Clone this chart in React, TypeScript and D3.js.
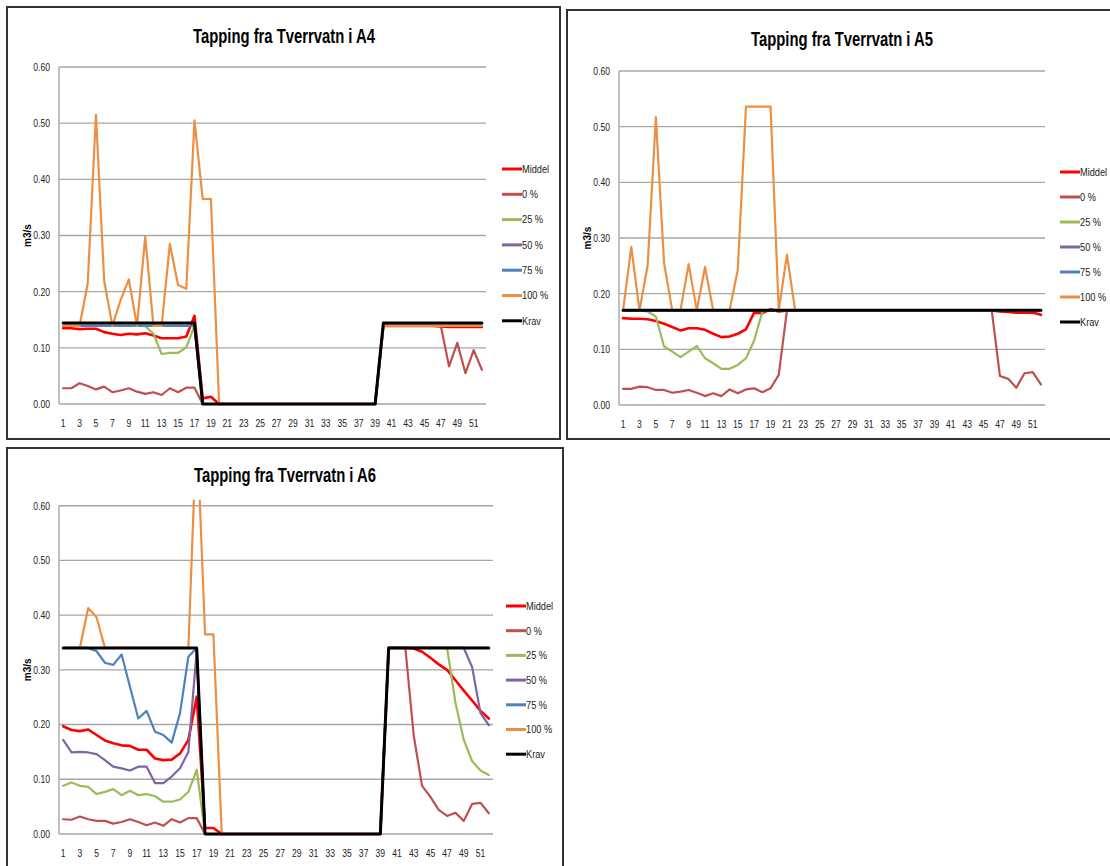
import React from 'react';
import * as d3 from 'd3';

// uker (kategorier) og akser
const weeks = d3.range(1, 53);
const xTickWeeks = weeks.filter(w => w % 2 === 1);
const yTicks = [0, 0.1, 0.2, 0.3, 0.4, 0.5, 0.6];
const seriesNames = ['Middel', '0 %', '25 %', '50 %', '75 %', '100 %', 'Krav'];
const seriesColors = ['#ff0000', '#c0504d', '#9bbb59', '#8064a2', '#4f81bd', '#ec8f43', '#000000'];

// ---- A4 ----
const a4Middel = [
  0.135, 0.135, 0.133, 0.134, 0.134, 0.128, 0.125, 0.123, 0.125, 0.124, 0.126, 0.122, 0.117, 0.117, 0.117, 0.120, 0.157,
  0.010, 0.013,
  0, 0, 0, 0, 0, 0, 0, 0, 0, 0,
  0, 0, 0, 0, 0, 0, 0, 0, 0, 0,
  0.139, 0.139, 0.139, 0.139, 0.139, 0.139, 0.139, 0.138, 0.137, 0.137, 0.137, 0.137, 0.137,
];
const a4P0 = [
  0.028, 0.028, 0.037, 0.032, 0.026, 0.031, 0.021, 0.024, 0.028, 0.022, 0.018, 0.021, 0.016, 0.028, 0.021, 0.029, 0.029,
  0, 0,
  0, 0, 0, 0, 0, 0, 0, 0, 0, 0,
  0, 0, 0, 0, 0, 0, 0, 0, 0, 0,
  0.139, 0.139, 0.139, 0.139, 0.139, 0.139, 0.139, 0.139, 0.067, 0.109, 0.055, 0.096, 0.061,
];
const a4P25 = [
  0.139, 0.139, 0.139, 0.139, 0.139, 0.139, 0.139, 0.139, 0.139, 0.139, 0.139, 0.125, 0.089, 0.091, 0.091, 0.101, 0.139,
  0, 0,
  0, 0, 0, 0, 0, 0, 0, 0, 0, 0,
  0, 0, 0, 0, 0, 0, 0, 0, 0, 0,
  0.139, 0.139, 0.139, 0.139, 0.139, 0.139, 0.139, 0.139, 0.139, 0.139, 0.139, 0.139, 0.139,
];
const a4P50 = [
  0.139, 0.139, 0.139, 0.139, 0.139, 0.139, 0.139, 0.139, 0.139, 0.139, 0.139, 0.139, 0.139, 0.139, 0.139, 0.139, 0.139,
  0, 0,
  0, 0, 0, 0, 0, 0, 0, 0, 0, 0,
  0, 0, 0, 0, 0, 0, 0, 0, 0, 0,
  0.139, 0.139, 0.139, 0.139, 0.139, 0.139, 0.139, 0.139, 0.139, 0.139, 0.139, 0.139, 0.139,
];
const a4P75 = [
  0.139, 0.139, 0.139, 0.139, 0.139, 0.139, 0.139, 0.139, 0.139, 0.139, 0.139, 0.139, 0.139, 0.139, 0.139, 0.139, 0.139,
  0, 0,
  0, 0, 0, 0, 0, 0, 0, 0, 0, 0,
  0, 0, 0, 0, 0, 0, 0, 0, 0, 0,
  0.139, 0.139, 0.139, 0.139, 0.139, 0.139, 0.139, 0.139, 0.139, 0.139, 0.139, 0.139, 0.139,
];
const a4P100 = [
  0.139, 0.139, 0.139, 0.215, 0.515, 0.220, 0.139, 0.185, 0.222, 0.139, 0.298, 0.139, 0.139, 0.285, 0.212, 0.205, 0.505,
  0.365, 0.365,
  0, 0, 0, 0, 0, 0, 0, 0, 0, 0,
  0, 0, 0, 0, 0, 0, 0, 0, 0, 0,
  0.139, 0.139, 0.139, 0.139, 0.139, 0.139, 0.139, 0.139, 0.139, 0.139, 0.139, 0.139, 0.139,
];
const a4Krav = [
  0.144, 0.144, 0.144, 0.144, 0.144, 0.144, 0.144, 0.144, 0.144, 0.144, 0.144, 0.144, 0.144, 0.144, 0.144, 0.144, 0.144,
  0, 0,
  0, 0, 0, 0, 0, 0, 0, 0, 0, 0,
  0, 0, 0, 0, 0, 0, 0, 0, 0, 0,
  0.144, 0.144, 0.144, 0.144, 0.144, 0.144, 0.144, 0.144, 0.144, 0.144, 0.144, 0.144, 0.144,
];

// ---- A5 ----
const a5Middel = [
  0.156, 0.155, 0.155, 0.154, 0.151, 0.146, 0.140, 0.134, 0.138, 0.138, 0.135, 0.128, 0.122, 0.123, 0.128, 0.136, 0.166, 0.165, 0.172, 0.168,
  0.170, 0.170, 0.170, 0.170, 0.170, 0.170, 0.170, 0.170, 0.170, 0.170, 0.170, 0.170, 0.170,
  0.170, 0.170, 0.170, 0.170, 0.170, 0.170, 0.170, 0.170, 0.170, 0.170, 0.170, 0.170, 0.170,
  0.168, 0.167, 0.166, 0.166, 0.166, 0.162,
];
const a5P0 = [
  0.029, 0.029, 0.033, 0.032, 0.027, 0.027, 0.022, 0.024, 0.027, 0.022, 0.016, 0.021, 0.016, 0.028, 0.021, 0.028, 0.030, 0.023, 0.030, 0.054,
  0.170, 0.170, 0.170, 0.170, 0.170, 0.170, 0.170, 0.170, 0.170, 0.170, 0.170, 0.170, 0.170,
  0.170, 0.170, 0.170, 0.170, 0.170, 0.170, 0.170, 0.170, 0.170, 0.170, 0.170, 0.170, 0.170,
  0.052, 0.047, 0.031, 0.057, 0.059, 0.037,
];
const a5P25 = [
  0.170, 0.170, 0.170, 0.168, 0.159, 0.105, 0.096, 0.086, 0.096, 0.106, 0.084, 0.075, 0.065, 0.065, 0.072, 0.084, 0.116, 0.168, 0.170, 0.170,
  0.170, 0.170, 0.170, 0.170, 0.170, 0.170, 0.170, 0.170, 0.170, 0.170, 0.170, 0.170, 0.170,
  0.170, 0.170, 0.170, 0.170, 0.170, 0.170, 0.170, 0.170, 0.170, 0.170, 0.170, 0.170, 0.170,
  0.170, 0.170, 0.170, 0.170, 0.170, 0.170,
];
const a5P50 = [
  0.170, 0.170, 0.170, 0.170, 0.170, 0.170, 0.170, 0.170, 0.170, 0.170, 0.170, 0.170, 0.170,
  0.170, 0.170, 0.170, 0.170, 0.170, 0.170, 0.170, 0.170, 0.170, 0.170, 0.170, 0.170, 0.170,
  0.170, 0.170, 0.170, 0.170, 0.170, 0.170, 0.170, 0.170, 0.170, 0.170, 0.170, 0.170, 0.170,
  0.170, 0.170, 0.170, 0.170, 0.170, 0.170, 0.170, 0.170, 0.170, 0.170, 0.170, 0.170, 0.170,
];
const a5P75 = [
  0.170, 0.170, 0.170, 0.170, 0.170, 0.170, 0.170, 0.170, 0.170, 0.170, 0.170, 0.170, 0.170,
  0.170, 0.170, 0.170, 0.170, 0.170, 0.170, 0.170, 0.170, 0.170, 0.170, 0.170, 0.170, 0.170,
  0.170, 0.170, 0.170, 0.170, 0.170, 0.170, 0.170, 0.170, 0.170, 0.170, 0.170, 0.170, 0.170,
  0.170, 0.170, 0.170, 0.170, 0.170, 0.170, 0.170, 0.170, 0.170, 0.170, 0.170, 0.170, 0.170,
];
const a5P100 = [
  0.170, 0.284, 0.170, 0.251, 0.517, 0.255, 0.170, 0.170, 0.253, 0.170, 0.248, 0.170, 0.170, 0.170, 0.243, 0.536, 0.536, 0.536, 0.536, 0.170, 0.270, 0.170,
  0.170, 0.170, 0.170, 0.170, 0.170, 0.170, 0.170, 0.170, 0.170, 0.170, 0.170, 0.170, 0.170, 0.170, 0.170,
  0.170, 0.170, 0.170, 0.170, 0.170, 0.170, 0.170, 0.170, 0.170, 0.170, 0.170, 0.170, 0.170, 0.170, 0.170,
];
const a5Krav = [
  0.170, 0.170, 0.170, 0.170, 0.170, 0.170, 0.170, 0.170, 0.170, 0.170, 0.170, 0.170, 0.170,
  0.170, 0.170, 0.170, 0.170, 0.170, 0.170, 0.170, 0.170, 0.170, 0.170, 0.170, 0.170, 0.170,
  0.170, 0.170, 0.170, 0.170, 0.170, 0.170, 0.170, 0.170, 0.170, 0.170, 0.170, 0.170, 0.170,
  0.170, 0.170, 0.170, 0.170, 0.170, 0.170, 0.170, 0.170, 0.170, 0.170, 0.170, 0.170, 0.170,
];

// ---- A6 ----
const a6Middel = [
  0.197, 0.190, 0.188, 0.191, 0.181, 0.171, 0.166, 0.162, 0.161, 0.154, 0.154, 0.138, 0.135, 0.136, 0.147, 0.172, 0.251,
  0.011, 0.011,
  0, 0, 0, 0, 0, 0, 0, 0, 0, 0,
  0, 0, 0, 0, 0, 0, 0, 0, 0, 0,
  0.340, 0.340, 0.340, 0.339, 0.333, 0.322, 0.310, 0.300, 0.281, 0.262, 0.244, 0.225, 0.211,
];
const a6P0 = [
  0.027, 0.026, 0.032, 0.027, 0.024, 0.024, 0.019, 0.022, 0.027, 0.022, 0.016, 0.021, 0.015, 0.027, 0.021, 0.029, 0.029,
  0, 0,
  0, 0, 0, 0, 0, 0, 0, 0, 0, 0,
  0, 0, 0, 0, 0, 0, 0, 0, 0, 0,
  0.340, 0.340, 0.340, 0.180, 0.088, 0.068, 0.044, 0.033, 0.039, 0.024, 0.055, 0.057, 0.038,
];
const a6P25 = [
  0.088, 0.094, 0.088, 0.086, 0.073, 0.077, 0.082, 0.071, 0.079, 0.071, 0.073, 0.069, 0.059, 0.059, 0.063, 0.077, 0.117,
  0, 0,
  0, 0, 0, 0, 0, 0, 0, 0, 0, 0,
  0, 0, 0, 0, 0, 0, 0, 0, 0, 0,
  0.340, 0.340, 0.340, 0.340, 0.340, 0.340, 0.340, 0.340, 0.240, 0.172, 0.133, 0.116, 0.108,
];
const a6P50 = [
  0.172, 0.149, 0.150, 0.149, 0.146, 0.135, 0.123, 0.120, 0.116, 0.123, 0.123, 0.093, 0.093, 0.105, 0.120, 0.150, 0.335,
  0, 0,
  0, 0, 0, 0, 0, 0, 0, 0, 0, 0,
  0, 0, 0, 0, 0, 0, 0, 0, 0, 0,
  0.340, 0.340, 0.340, 0.340, 0.340, 0.340, 0.340, 0.340, 0.340, 0.340, 0.305, 0.221, 0.199,
];
const a6P75 = [
  0.340, 0.340, 0.340, 0.340, 0.334, 0.313, 0.309, 0.328, 0.269, 0.211, 0.225, 0.187, 0.181, 0.167, 0.221, 0.324, 0.340,
  0, 0,
  0, 0, 0, 0, 0, 0, 0, 0, 0, 0,
  0, 0, 0, 0, 0, 0, 0, 0, 0, 0,
  0.340, 0.340, 0.340, 0.340, 0.340, 0.340, 0.340, 0.340, 0.340, 0.340, 0.340, 0.340, 0.340,
];
const a6P100 = [
  0.340, 0.340, 0.340, 0.413, 0.396, 0.340, 0.340, 0.340, 0.340, 0.340, 0.340, 0.340, 0.340, 0.340, 0.340, 0.340, 0.750,
  0.365, 0.365,
  0, 0, 0, 0, 0, 0, 0, 0, 0, 0,
  0, 0, 0, 0, 0, 0, 0, 0, 0, 0,
  0.340, 0.340, 0.340, 0.340, 0.340, 0.340, 0.340, 0.340, 0.340, 0.340, 0.340, 0.340, 0.340,
];
const a6Krav = [
  0.340, 0.340, 0.340, 0.340, 0.340, 0.340, 0.340, 0.340, 0.340, 0.340, 0.340, 0.340, 0.340, 0.340, 0.340, 0.340, 0.340,
  0, 0,
  0, 0, 0, 0, 0, 0, 0, 0, 0, 0,
  0, 0, 0, 0, 0, 0, 0, 0, 0, 0,
  0.340, 0.340, 0.340, 0.340, 0.340, 0.340, 0.340, 0.340, 0.340, 0.340, 0.340, 0.340, 0.340,
];

const sans = "'Liberation Sans', Arial, sans-serif";
const strokeWidths = [2.6, 2.2, 2.2, 2.2, 2.2, 2.2, 3];

const panels = [
  {
    id: 'a4', title: 'Tapping fra Tverrvatn i A4',
    series: [a4Middel, a4P0, a4P25, a4P50, a4P75, a4P100, a4Krav],
    box: { x: 7, y: 7, w: 553, h: 432 },
    plot: { l: 59, r: 486, t: 67, b: 404 },
    titleX: 284, titleY: 43, legendX: 502, legendY: 169, legendStep: 25.3, yLabelX: 31,
  },
  {
    id: 'a5', title: 'Tapping fra Tverrvatn i A5',
    series: [a5Middel, a5P0, a5P25, a5P50, a5P75, a5P100, a5Krav],
    box: { x: 567, y: 10, w: 560, h: 429 },
    plot: { l: 619, r: 1045, t: 71, b: 405 },
    titleX: 842, titleY: 46, legendX: 1060, legendY: 172, legendStep: 25, yLabelX: 591,
  },
  {
    id: 'a6', title: 'Tapping fra Tverrvatn i A6',
    series: [a6Middel, a6P0, a6P25, a6P50, a6P75, a6P100, a6Krav],
    box: { x: 7, y: 448, w: 556, h: 440 },
    plot: { l: 59, r: 493, t: 505.7, b: 834 },
    titleX: 285, titleY: 482, legendX: 506, legendY: 606, legendStep: 24.7, yLabelX: 31,
  },
];

// smal tekst (Calibri-aktig): vanlig sans klemt sammen horisontalt
function NText({ x, y, anchor = 'start', squeeze = 0.78, children }: any) {
  return (
    <text transform={`translate(${x},${y}) scale(${squeeze},1)`} textAnchor={anchor} dy="0.35em"
      fontFamily={sans} fontSize={11} fill="#222">{children}</text>
  );
}

function Panel({ cfg }: { cfg: any }) {
  const { plot } = cfg;
  const x = d3.scaleBand<number>().domain(weeks).range([plot.l, plot.r]);
  const cx = (w: number) => (x(w) as number) + x.bandwidth() / 2;
  const y = d3.scaleLinear().domain([0, 0.6]).range([plot.b, plot.t]);
  const line = d3.line<number>()
    .x((_, i) => cx(weeks[i]))
    .y(d => y(d));

  return (
    <g>
      <rect x={cfg.box.x} y={cfg.box.y} width={cfg.box.w} height={cfg.box.h}
        fill="#fff" stroke="#333" strokeWidth={2} />
      <text x={cfg.titleX} y={cfg.titleY} textAnchor="middle"
        fontFamily={sans} fontWeight="bold" fontSize={21}
        textLength={182} lengthAdjust="spacingAndGlyphs" fill="#000">
        {cfg.title}
      </text>

      {yTicks.map(t => (
        <g key={t}>
          <line x1={plot.l} x2={plot.r} y1={y(t)} y2={y(t)} stroke="#a6a6a6" strokeWidth={1.4} />
          <NText x={plot.l - 9} y={y(t)} anchor="end">{t.toFixed(2)}</NText>
        </g>
      ))}
      <line x1={plot.l} x2={plot.l} y1={plot.t} y2={plot.b} stroke="#a6a6a6" strokeWidth={1.4} />

      {xTickWeeks.map(w => (
        <NText key={w} x={cx(w)} y={plot.b + 19} anchor="middle">{w}</NText>
      ))}

      <text transform={`translate(${cfg.yLabelX},${(plot.t + plot.b) / 2}) rotate(-90)`}
        textAnchor="middle" fontFamily={sans}
        fontWeight="bold" fontSize={10} fill="#000">m3/s</text>

      <clipPath id={`clip-${cfg.id}`}>
        <rect x={plot.l - 5} y={plot.t - 6} width={plot.r - plot.l + 10} height={plot.b - plot.t + 12} />
      </clipPath>
      <g clipPath={`url(#clip-${cfg.id})`}>
        {cfg.series.map((s: number[], i: number) => (
          <path key={i} d={line(s) || ''} fill="none" stroke={seriesColors[i]}
            strokeWidth={strokeWidths[i]} strokeLinejoin="round" strokeLinecap="round" />
        ))}
      </g>

      {seriesNames.map((name, i) => {
        const ly = cfg.legendY + i * cfg.legendStep;
        return (
          <g key={name}>
            <line x1={cfg.legendX} x2={cfg.legendX + 20} y1={ly} y2={ly}
              stroke={seriesColors[i]} strokeWidth={3} />
            <NText x={cfg.legendX + 20} y={ly} squeeze={0.84}>{name}</NText>
          </g>
        );
      })}
    </g>
  );
}

export default function App() {
  return (
    <svg width={1110} height={866} style={{ position: 'absolute', left: 0, top: 0, background: '#fff' }}>
      {panels.map(p => <Panel key={p.id} cfg={p} />)}
    </svg>
  );
}
